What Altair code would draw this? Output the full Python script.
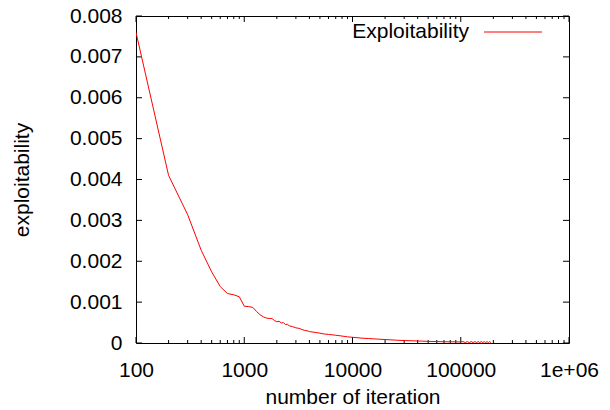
import altair as alt
import pandas as pd

# ---- data ----
iterations = [100, 200, 300, 400, 500, 600, 700, 800, 900, 1000, 1100, 1200,
              1300, 1400, 1500, 1600, 1700, 1800, 1900, 2000, 2100, 2200, 2300,
              2400, 2500, 2600, 2800, 3000, 3200, 3400, 3600, 3800, 4000, 4500,
              5000, 5500, 6000, 7000, 8000, 9000, 10000, 12000, 14000, 17000,
              20000, 25000, 30000, 40000, 50000, 60000, 70000, 80000, 90000,
              100000, 105000, 110000, 115000, 120000, 125000, 130000, 135000,
              140000, 145000, 150000, 155000, 160000, 165000, 170000, 175000,
              180000, 185000, 190000]
exploitability = [0.0076, 0.0041, 0.00314, 0.00227, 0.00174, 0.00138, 0.00121,
                  0.00118, 0.00113, 0.00090, 0.00089, 0.00087, 0.00077, 0.00069,
                  0.00064, 0.00061, 0.00060, 0.00060, 0.00055, 0.00052, 0.00053,
                  0.00049, 0.00050, 0.00045, 0.00046, 0.00042, 0.00040, 0.00037,
                  0.00036, 0.00033, 0.00031, 0.00030, 0.00028, 0.00026, 0.00024,
                  0.00022, 0.00021, 0.00019, 0.00017, 0.00015, 0.00014, 0.00012,
                  0.00011, 0.000095, 0.000085, 0.00007, 0.00006, 0.00005,
                  0.00004, 0.000035, 0.00003, 0.00003, 0.000028,
                  0.000025, 0.000035, 0.00001, 0.000035, 0.00001, 0.000035,
                  0.00001, 0.000035, 0.00001, 0.000035, 0.00001, 0.000035,
                  0.00001, 0.000035, 0.00001, 0.000035, 0.00001, 0.000035,
                  0.00001]

x_major = [100, 1000, 10000, 100000, 1000000]
x_labels = ["100", "1000", "10000", "100000", "1e+06"]
x_minor = [m * d for d in [100, 1000, 10000, 100000] for m in range(2, 10)]
y_major = [0, 0.001, 0.002, 0.003, 0.004, 0.005, 0.006, 0.007, 0.008]
y_labels = ["0", "0.001", "0.002", "0.003", "0.004", "0.005", "0.006", "0.007", "0.008"]
series_name = "Exploitability"

W, H = 433, 327
FONT = "Liberation Sans"
FS = 21

df = pd.DataFrame({"iter": iterations, "val": exploitability})
xmaj = pd.DataFrame({"iter": x_major})
xmin = pd.DataFrame({"iter": x_minor})
ymaj = pd.DataFrame({"val": y_major})

xscale = alt.Scale(type="log", domain=[100, 1000000], nice=False)
yscale = alt.Scale(domain=[0, 0.008], nice=False)

label_expr_x = " : ".join(
    [f"datum.value == {v} ? '{l}'" for v, l in zip(x_major, x_labels)]) + " : ''"
label_expr_y = " : ".join(
    [f"abs(datum.value - {v}) < 1e-9 ? '{l}'" for v, l in zip(y_major, y_labels)]) + " : ''"

line = alt.Chart(df).mark_line(color="#ff0000", strokeWidth=1, clip=True).encode(
    x=alt.X("iter:Q", scale=xscale,
            axis=alt.Axis(values=x_major, labelExpr=label_expr_x, title="number of iteration",
                          ticks=False, domain=False, grid=False, labelPadding=16,
                          labelFont=FONT, labelFontSize=FS, labelColor="black",
                          labelFlush=False, labelOverlap=False,
                          titleFont=FONT, titleFontSize=FS, titleFontWeight="normal",
                          titleColor="black", titleX=W / 2, titleY=54,
                          titleBaseline="middle")),
    y=alt.Y("val:Q", scale=yscale,
            axis=alt.Axis(values=y_major, labelExpr=label_expr_y, title="exploitability",
                          ticks=False, domain=False, grid=False, labelPadding=14,
                          labelFont=FONT, labelFontSize=FS, labelColor="black",
                          labelFlush=False, labelOverlap=False,
                          titleFont=FONT, titleFontSize=FS, titleFontWeight="normal",
                          titleColor="black", titleX=-114, titleY=H / 2,
                          titleAngle=-90, titleAlign="center", titleBaseline="middle")),
)

tick_color = "black"
xt_bottom_major = alt.Chart(xmaj).mark_rule(color=tick_color).encode(
    x=alt.X("iter:Q", scale=xscale), y=alt.value(H), y2=alt.value(H - 6))
xt_top_major = alt.Chart(xmaj).mark_rule(color=tick_color).encode(
    x=alt.X("iter:Q", scale=xscale), y=alt.value(0), y2=alt.value(6))
xt_bottom_minor = alt.Chart(xmin).mark_rule(color=tick_color).encode(
    x=alt.X("iter:Q", scale=xscale), y=alt.value(H), y2=alt.value(H - 3))
xt_top_minor = alt.Chart(xmin).mark_rule(color=tick_color).encode(
    x=alt.X("iter:Q", scale=xscale), y=alt.value(0), y2=alt.value(3))
yt_left = alt.Chart(ymaj).mark_rule(color=tick_color).encode(
    y=alt.Y("val:Q", scale=yscale), x=alt.value(0), x2=alt.value(6))
yt_right = alt.Chart(ymaj).mark_rule(color=tick_color).encode(
    y=alt.Y("val:Q", scale=yscale), x=alt.value(W), x2=alt.value(W - 6))

legend_df = pd.DataFrame({"name": [series_name]})
legend_text = alt.Chart(legend_df).mark_text(
    font=FONT, fontSize=FS, align="right", baseline="middle", color="black"
).encode(text="name:N", x=alt.value(333), y=alt.value(16))
legend_line = alt.Chart(legend_df).mark_rule(color="#ff0000", strokeWidth=1).encode(
    x=alt.value(348), x2=alt.value(406), y=alt.value(16))

chart = alt.layer(
    xt_bottom_minor, xt_top_minor, xt_bottom_major, xt_top_major, yt_left, yt_right,
    line, legend_text, legend_line
).properties(
    width=W, height=H,
    padding={"left": 128, "top": 8, "right": 33, "bottom": 66},
    autosize=alt.AutoSizeParams(type="none"),
    background="white",
).configure_view(stroke="black", strokeWidth=1)

chart.save("out.html", embed_options={"renderer": "svg", "actions": False})
